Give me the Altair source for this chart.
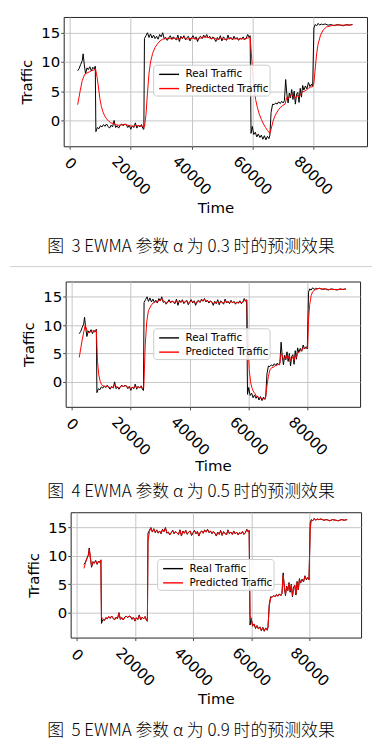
import altair as alt
import pandas as pd

# ---------------- data ----------------
real_time = [
    2500, 3000, 3500, 4000, 4300, 4700, 5100, 5600, 6000, 6500,
    7000, 7500, 8000, 8300, 8500, 9000, 9500, 10000, 10500, 11000,
    11500, 12000, 12500, 13000, 13500, 14000, 14500, 15000, 15500, 16000,
    16500, 17000, 17500, 18000, 18500, 19000, 19500, 20000, 20500, 21000,
    21500, 22000, 22500, 23000, 23500, 24000, 24300, 24500, 25000, 25500,
    26000, 26500, 27000, 27500, 28000, 28500, 29000, 29500, 30000, 30500,
    31000, 31500, 32000, 32500, 33000, 33500, 34000, 34500, 35000, 35500,
    36000, 36500, 37000, 37500, 38000, 38500, 39000, 39500, 40000, 40500,
    41000, 41500, 42000, 42500, 43000, 43500, 44000, 44500, 45000, 45500,
    46000, 46500, 47000, 47500, 48000, 48500, 49000, 49500, 50000, 50500,
    51000, 51500, 52000, 52500, 53000, 53500, 54000, 54500, 55000, 55500,
    56000, 56500, 57000, 57500, 58000, 58500, 59000, 59300, 59600, 60000,
    60500, 61000, 61500, 62000, 62500, 63000, 63500, 64000, 64500, 65000,
    65500, 65800, 66200, 66700, 67200, 67700, 68200, 68700, 69200, 69700,
    70200, 70600, 71000, 71400, 71800, 72200, 72600, 73000, 73400, 73800,
    74200, 74600, 75000, 75400, 75800, 76200, 76600, 77000, 77500, 78000,
    78500, 79000, 79500, 79900, 80300, 80700, 81200, 81700, 82200, 82700,
    83200, 84000, 85000, 86000, 87000, 88000, 89000, 90000, 91000, 92000,
    93000,
]
real_traffic = [
    8.5, 8.9, 9.6, 10.2, 11.4, 9.5, 8.0, 9.0, 8.7, 9.2,
    8.5, 9.1, 8.8, 9.3, -1.9, -1.2, -1.4, -0.9, -1.1, -0.7,
    -1.0, -0.6, -1.0, -1.3, -0.8, -1.1, 0.0, -1.2, -0.9, -1.3,
    -0.8, -0.6, -0.9, -0.6, -0.7, -1.2, -0.8, -1.5, -0.9, -1.2,
    -0.4, -1.3, -0.8, -1.1, -0.7, -1.4, -1.5, 14.0, 14.5, 15.0,
    14.2, 14.8, 14.1, 14.6, 14.0, 14.4, 13.9, 14.7, 14.3, 15.0,
    14.0, 14.2, 13.7, 14.1, 14.5, 13.9, 14.3, 14.0, 13.8, 14.6,
    13.5, 14.4, 14.0, 14.5, 13.8, 14.2, 14.4, 13.6, 14.1, 14.5,
    13.9, 14.3, 13.5, 14.2, 14.4, 14.0, 14.6, 14.2, 14.7, 14.1,
    14.4, 13.9, 14.3, 14.0, 13.5, 14.2, 13.8, 14.5, 13.6, 14.3,
    14.0, 13.7, 14.6, 13.9, 14.2, 13.8, 14.4, 13.9, 14.2, 13.7,
    14.1, 13.9, 14.3, 13.8, 14.1, 14.7, 14.2, 14.5, -2.2, -1.0,
    -2.4, -2.0, -2.8, -2.3, -2.9, -2.5, -3.2, -2.6, -3.3, -2.7,
    -3.1, -2.5, 1.4, 2.8, 2.7, 3.0, 2.8, 3.2, 2.9, 3.3,
    3.0, 3.4, 7.0, 4.5, 3.0, 4.7, 3.9, 5.3, 3.6, 5.0,
    2.8, 4.5, 4.8, 3.1, 5.5, 4.0, 6.0, 5.2, 5.9, 5.4,
    6.5, 5.8, 6.2, 5.8, 15.8, 16.4, 16.2, 16.6, 16.3, 16.5,
    16.4, 16.5, 16.3, 16.4, 16.2, 16.4, 16.3, 16.2, 16.4, 16.3,
    16.4,
]
# alpha = 0.9 prediction, read at the same times as the real series
pred09_traffic = [
    7.8, 8.8, 9.5, 10.1, 11.2, 9.7, 8.2, 8.9, 8.7, 9.1,
    8.6, 9.0, 8.8, 9.3, -0.8, -1.1, -1.4, -0.9, -1.1, -0.7,
    -1.0, -0.6, -1.0, -1.2, -0.8, -1.1, -0.1, -1.1, -0.9, -1.3,
    -0.9, -0.6, -0.9, -0.6, -0.7, -1.1, -0.8, -1.4, -1.0, -1.2,
    -0.5, -1.2, -0.8, -1.1, -0.7, -1.3, -1.5, 12.5, 14.3, 14.9,
    14.3, 14.7, 14.2, 14.5, 14.1, 14.4, 14.0, 14.6, 14.3, 14.9,
    14.1, 14.2, 13.8, 14.1, 14.4, 14.0, 14.3, 14.0, 13.8, 14.5,
    13.6, 14.3, 14.0, 14.5, 13.9, 14.2, 14.4, 13.7, 14.0, 14.4,
    14.0, 14.3, 13.6, 14.1, 14.4, 14.0, 14.5, 14.2, 14.6, 14.2,
    14.4, 14.0, 14.3, 14.0, 13.6, 14.1, 13.8, 14.4, 13.7, 14.2,
    14.0, 13.7, 14.5, 14.0, 14.2, 13.8, 14.3, 13.9, 14.2, 13.7,
    14.1, 13.9, 14.3, 13.8, 14.1, 14.6, 14.3, 14.5, -0.6, -1.0,
    -2.3, -2.0, -2.7, -2.3, -2.8, -2.6, -3.1, -2.7, -3.2, -2.7,
    -3.1, -2.5, 1.0, 2.6, 2.7, 3.0, 2.8, 3.1, 2.9, 3.3,
    3.0, 3.4, 6.6, 4.7, 3.2, 4.5, 3.9, 5.1, 3.8, 4.9,
    3.0, 4.3, 4.8, 3.3, 5.3, 4.1, 5.8, 5.3, 5.8, 5.5,
    6.4, 5.9, 6.2, 5.8, 14.8, 16.3, 16.2, 16.6, 16.3, 16.5,
    16.4, 16.5, 16.3, 16.4, 16.2, 16.4, 16.3, 16.2, 16.4, 16.3,
    16.4,
]
pred03_time = [
    2500, 3300, 4000, 4800, 5500, 6300, 7000, 7700, 8400, 8900,
    9300, 9800, 10300, 10800, 11400, 12000, 12700, 13400, 14200, 15000,
    15800, 16600, 17400, 18200, 19000, 19800, 20600, 21400, 22200, 23000,
    23800, 24500, 25000, 25500, 26000, 26500, 27200, 28000, 28800, 29600,
    30500, 31500, 32500, 33500, 34500, 35500, 36500, 37500, 38500, 39500,
    40500, 41500, 42500, 43500, 44500, 45500, 46500, 47500, 48500, 49500,
    50500, 51500, 52500, 53500, 54500, 55500, 56500, 57500, 58500, 59300,
    59700, 60100, 60600, 61100, 61700, 62300, 63000, 63700, 64400, 65000,
    65800, 66300, 66800, 67400, 68000, 68700, 69400, 70100, 70800, 71300,
    71800, 72400, 73000, 73600, 74200, 74800, 75400, 76000, 76600, 77200,
    77800, 78500, 79200, 79900, 80300, 80800, 81200, 81700, 82500, 83400,
    84500, 86000, 87000, 88500, 90000, 91500, 93000,
]
pred03_traffic = [
    2.7, 5.0, 6.8, 7.9, 8.1, 8.3, 8.5, 8.6, 8.8, 7.4,
    5.9, 3.8, 2.4, 1.5, 0.8, 0.3, -0.1, -0.4, -0.5, -0.7,
    -0.8, -0.8, -0.7, -0.7, -0.8, -0.9, -1.0, -0.8, -0.9, -0.9,
    -1.0, -1.1, 1.0, 4.8, 8.1, 10.0, 11.5, 12.5, 13.1, 13.6,
    13.9, 14.0, 14.1, 13.9, 14.1, 13.9, 14.1, 14.2, 13.9, 14.0,
    14.1, 13.9, 14.0, 14.2, 14.3, 14.2, 14.0, 14.1, 13.8, 14.1,
    13.9, 13.8, 14.1, 13.9, 14.0, 13.9, 14.0, 13.9, 14.1, 14.2,
    11.5, 8.4, 5.8, 3.6, 2.2, 1.1, 0.2, -0.6, -1.2, -1.7,
    -2.2, -1.3, -0.2, 0.7, 1.3, 1.9, 2.3, 2.6, 2.8, 3.9,
    3.7, 4.1, 4.4, 4.2, 3.8, 4.3, 4.0, 4.6, 4.9, 5.0,
    5.2, 5.5, 5.7, 5.8, 6.4, 9.2, 11.4, 13.1, 14.6, 15.5,
    16.0, 16.2, 16.3, 16.3, 16.3, 16.3, 16.4,
]
pred05_time = [
    2500, 3500, 4500, 5000, 5500, 6000, 6500, 7000, 7500, 8000,
    8300, 8700, 9100, 9600, 10100, 10600, 11100, 11600, 12100, 12600,
    13000, 13500, 14000, 14500, 15000, 15500, 16000, 16500, 17000, 17500,
    18000, 18500, 19000, 19500, 20000, 20500, 21000, 21500, 22000, 22500,
    23000, 23500, 24000, 24400, 24900, 25400, 26000, 26800, 27500, 28000,
    28500, 29000, 29500, 30000, 30500, 31000, 31500, 32000, 32500, 33000,
    33500, 34000, 35000, 35500, 36000, 36500, 37000, 37500, 38000, 38500,
    39000, 39500, 40000, 40500, 41000, 41500, 42000, 42500, 43000, 43500,
    44000, 44500, 45000, 45500, 46000, 46500, 47000, 47500, 48000, 48500,
    49000, 49500, 50000, 50500, 51000, 51500, 52000, 52500, 53000, 53500,
    54000, 54500, 55000, 55500, 56000, 56500, 57000, 57500, 58000, 58500,
    59000, 59400, 59800, 60200, 60700, 61200, 61700, 62200, 62700, 63200,
    63700, 64200, 64700, 65200, 65700, 66200, 66700, 67200, 67800, 68500,
    69000, 69500, 70000, 70500, 71000, 71400, 71800, 72200, 72600, 73000,
    73400, 73800, 74200, 74600, 75000, 75400, 75800, 76200, 76600, 77000,
    77500, 78000, 78500, 79000, 79500, 80000, 80300, 80700, 81200, 81700,
    82200, 82700, 83200, 84000, 85000, 86000, 87000, 88000, 89000, 90000,
    91000, 92000, 93000,
]
pred05_traffic = [
    4.3, 7.4, 10.0, 9.3, 8.6, 8.9, 8.8, 9.0, 8.8, 8.9,
    9.1, 3.6, 1.3, 0.1, -0.5, -0.7, -0.8, -0.8, -0.7, -0.9,
    -1.1, -0.9, -1.0, -0.5, -0.8, -0.9, -1.1, -0.9, -0.7, -0.8,
    -0.7, -0.7, -1.0, -0.9, -1.2, -1.0, -1.1, -0.7, -1.0, -0.9,
    -1.0, -0.8, -1.1, -1.0, 6.5, 10.6, 12.6, 13.4, 13.9, 14.0,
    14.2, 14.0, 14.4, 14.3, 14.7, 14.3, 14.2, 13.9, 14.0, 14.3,
    14.1, 14.2, 14.0, 14.3, 13.9, 14.2, 14.1, 14.3, 14.0, 14.1,
    14.3, 13.9, 14.0, 14.3, 14.1, 14.2, 13.8, 14.0, 14.2, 14.1,
    14.4, 14.3, 14.5, 14.3, 14.3, 14.1, 14.2, 14.1, 13.8, 14.0,
    13.9, 14.2, 13.9, 14.1, 14.0, 13.9, 14.3, 14.1, 14.1, 14.0,
    14.2, 14.0, 14.1, 13.9, 14.0, 13.9, 14.1, 14.0, 14.0, 14.4,
    14.3, 14.4, 6.1, 2.0, -0.2, -1.2, -1.8, -2.1, -2.6, -2.6,
    -2.9, -2.8, -3.1, -2.9, -2.9, -0.7, 1.0, 2.1, 2.5, 2.6,
    2.9, 2.9, 3.1, 3.0, 5.0, 4.7, 3.9, 4.3, 4.1, 4.7,
    4.1, 4.6, 3.7, 4.1, 4.4, 3.8, 4.6, 4.3, 5.1, 5.2,
    5.5, 5.5, 6.0, 5.9, 6.1, 6.0, 10.9, 13.6, 15.2, 15.9,
    16.1, 16.3, 16.4, 16.5, 16.4, 16.4, 16.3, 16.3, 16.3, 16.3,
    16.3, 16.3, 16.4,
]

series_names = ["Real Traffic", "Predicted Traffic"]
series_colors = ["black", "red"]
x_ticks = [0, 20000, 40000, 60000, 80000]
y_ticks = [0, 5, 10, 15]
captions = [
    "图\u00a0\u00a03 EWMA 参数 α 为 0.3 时的预测效果",
    "图\u00a0\u00a04 EWMA 参数 α 为 0.5 时的预测效果",
    "图\u00a0\u00a05 EWMA 参数 α 为 0.9 时的预测效果",
]

X_DOMAIN = [-2100, 97800]
Y_DOMAIN = [-4.4, 17.7]
PAGE_RIGHT = 373   # right end of the full-width rule, page pixels
SPACER_W = 1


def spacer():
    return alt.Chart(pd.DataFrame({"k": [0]})).mark_rule(opacity=0).encode(
        x=alt.value(0), x2=alt.value(SPACER_W), y=alt.value(0)
    ).properties(width=SPACER_W, height=1,
                 view=alt.ViewBackground(stroke="transparent", strokeWidth=0))


def panel(pred_time, pred_vals, caption, w, h, plot_left, leg_x, leg_y,
          cap_offset, separator, edge_y, time_pad):
    left = plot_left - 8 - SPACER_W
    real = pd.DataFrame({"Time": real_time, "Traffic": real_traffic,
                         "series": series_names[0]})
    pred = pd.DataFrame({"Time": pred_time, "Traffic": pred_vals,
                         "series": series_names[1]})
    xs = alt.Scale(domain=X_DOMAIN, nice=False, zero=False)
    ys = alt.Scale(domain=Y_DOMAIN, nice=False, zero=False)
    xax = alt.Axis(
        values=x_ticks, format="d", title="Time",
        labelAngle=45, labelAlign="center", labelBaseline="middle",
        labelPadding={"condition": {"test": "datum.value === 0", "value": 14},
                      "value": 26},
        labelOverlap=False, labelFlush=False, titlePadding=time_pad,
    )
    yax = alt.Axis(values=y_ticks, title="Traffic", labelPadding=1,
                   titlePadding=6, labelOverlap=False, labelFlush=False)
    color = alt.Color(
        "series:N",
        scale=alt.Scale(domain=series_names, range=series_colors),
        legend=alt.Legend(
            orient="none", legendX=leg_x, legendY=leg_y, title=None,
            symbolType="M-1.333,0H1.333", symbolSize=225,
            symbolStrokeWidth=1.4, symbolOffset=6.3,
            labelFont="DejaVu Sans", labelFontSize=10.4, labelColor="black",
            labelOffset=8, rowPadding=0.3, padding=1.2,
            fillColor="rgba(255,255,255,0.85)", strokeColor="#cccccc",
            cornerRadius=3,
        ),
    )
    real_line = alt.Chart(real).mark_line(strokeWidth=1, clip=True).encode(
        x=alt.X("Time:Q", scale=xs, axis=xax),
        y=alt.Y("Traffic:Q", scale=ys, axis=yax),
        color=color,
    )
    pred_line = alt.Chart(pred).mark_line(strokeWidth=1, clip=True).encode(
        x=alt.X("Time:Q"), y=alt.Y("Traffic:Q"), color=color,
    )
    edge = alt.Chart(pd.DataFrame({"k": [0]})).mark_rule(
        color="#d0d0d0", strokeWidth=1, opacity=1 if separator else 0,
    ).encode(
        x=alt.value(-left), x2=alt.value(PAGE_RIGHT - plot_left),
        y=alt.value(edge_y),
    )
    layered = alt.layer(real_line, pred_line, edge).properties(
        width=w, height=h,
        title=alt.TitleParams(
            caption, orient="bottom", anchor="middle", frame="bounds",
            font="Noto Sans CJK SC", fontSize=17, fontWeight=300,
            color="black", offset=cap_offset,
        ),
    )
    return alt.hconcat(spacer(), layered, spacing=0).resolve_scale(
        color="independent").resolve_legend(color="independent")


c1 = panel(pred03_time, pred03_traffic, captions[0], 305, 130, 63, 90, 48, 24, False, 0, 3)
c2 = panel(pred05_time, pred05_traffic, captions[1], 296, 126, 65, 88, 47, 10, True, -15, 1)
c3 = panel(real_time, pred09_traffic, captions[2], 292, 126, 70, 87, 47, 16, False, -1, 3)

chart = alt.vconcat(c1, c2, c3, spacing=9).resolve_scale(
    x="independent", y="independent", color="independent"
).resolve_legend(color="independent").properties(
    padding={"left": 0, "top": 6, "right": 0, "bottom": 0}
).configure_view(
    stroke="#222222", strokeWidth=1
).configure_axis(
    labelFont="DejaVu Sans", labelFontSize=15, labelColor="black",
    titleFont="DejaVu Sans", titleFontSize=15, titleFontWeight="normal",
    titleColor="black", grid=True, gridColor="#bfbfbf", gridWidth=0.9,
    domain=False, ticks=True, tickColor="#222222", tickSize=3, tickWidth=0.8,
)

chart.save("out.html", embed_options={"renderer": "svg", "actions": False})
